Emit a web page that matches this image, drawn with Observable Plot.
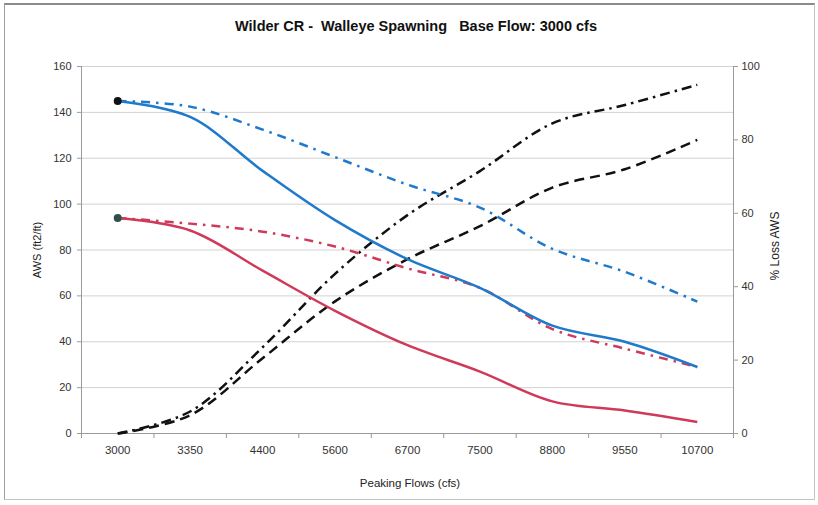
<!DOCTYPE html>
<html><head><meta charset="utf-8">
<script src="https://cdn.jsdelivr.net/npm/d3@7"></script>
<script src="https://cdn.jsdelivr.net/npm/@observablehq/plot@0.6"></script>
<style>
body{margin:0;background:#fff;font-family:"Liberation Sans",Arial,sans-serif;}
#wrap{position:relative;width:818px;height:505px;overflow:hidden}
#frame{position:absolute;left:4px;top:3px;width:811px;height:497px;border:1px solid #c4c4c4;border-top:2px solid #8a8a8a;border-left:1px solid #a0a0a0;box-sizing:border-box}
#chart{position:absolute;left:0;top:0}
.lbl{position:absolute;color:#222;font-size:11px;white-space:nowrap;transform:translate(-50%,-50%)}
</style></head>
<body><div id="wrap"><div id="frame"></div><div id="chart"></div>
<div class="lbl" style="left:416px;top:26px;font-size:14.5px;font-weight:bold;color:#111">Wilder CR -&nbsp; Walleye Spawning &nbsp; Base Flow: 3000 cfs</div>
<div class="lbl" style="left:37px;top:250px;transform:translate(-50%,-50%) rotate(-90deg)">AWS (ft2/ft)</div>
<div class="lbl" style="left:775px;top:246px;font-size:12px;transform:translate(-50%,-50%) rotate(-90deg)">% Loss AWS</div>
<div class="lbl" style="left:410px;top:483px;font-size:11.5px">Peaking Flows (cfs)</div>
</div>
<script>
const categories = ["3000","3350","4400","5600","6700","7500","8800","9550","10700"];
const awsBlue    = [145, 138, 114.5, 93, 76, 63.5, 47, 40, 29];
const awsRed     = [94, 88.5, 71, 53.5, 38.5, 27, 14, 10, 5];
const awsBlueAlt = [145, 142.5, 132.5, 120.5, 108.5, 98.5, 80.5, 70.5, 57.5];
const awsRedAlt  = [94, 91.5, 88, 81.5, 72, 63.5, 45.5, 37, 29];
const lossBlue   = [0, 5, 20.5, 36, 47.5, 56.5, 67, 72, 80];
const lossRed    = [0, 6, 23.5, 43.5, 59.5, 71.5, 84.5, 89.5, 95];
const leftTicks  = [0, 20, 40, 60, 80, 100, 120, 140, 160];
const rightTicks = [0, 20, 40, 60, 80, 100];

const k = 160 / 100; // right axis (0-100) mapped onto left axis range (0-160)
const rows = (arr) => arr.map((v, i) => ({i, v}));
const rowsR = (arr) => arr.map((v, i) => ({i, v: v * k}));
const idx = categories.map((c, i) => i);
const bounds = d3.range(-0.5, categories.length, 1);

const lineOpts = (stroke, dash) => ({x: "i", y: "v", stroke, strokeWidth: 2.5, strokeDasharray: dash, curve: "catmull-rom", strokeLinecap: "butt"});

const chart = Plot.plot({
  width: 818, height: 505,
  marginLeft: 81, marginRight: 85, marginTop: 66, marginBottom: 72,
  x: {type: "linear", domain: [-0.5, categories.length - 0.5], axis: null},
  y: {domain: [0, 160], axis: null},
  style: {fontFamily: "Liberation Sans, Arial, sans-serif", fontSize: "11px", color: "#333", background: "transparent", overflow: "visible"},
  marks: [
    Plot.gridY(leftTicks, {stroke: "#d2d2d2", strokeOpacity: 1}),
    Plot.ruleX([-0.5, categories.length - 0.5], {stroke: "#9a9a9a"}),
    Plot.ruleY([0], {stroke: "#9a9a9a"}),
    Plot.axisY(leftTicks, {anchor: "left", tickSize: 4, tickPadding: 6, label: null, stroke: "#9a9a9a", fill: "#333"}),
    Plot.axisY(rightTicks.map(v => v * k), {anchor: "right", tickSize: 4, tickPadding: 4, tickFormat: d => Math.round(d / k), label: null, stroke: "#9a9a9a", fill: "#333"}),
    Plot.axisX(bounds, {anchor: "bottom", tickSize: 5, tickFormat: () => "", label: null, stroke: "#9a9a9a"}),
    Plot.axisX(idx, {anchor: "bottom", tickSize: 0, tickPadding: 12, tickFormat: i => categories[i], label: null, fill: "#333", fontSize: 11.5}),
    Plot.line(rowsR(lossBlue), lineOpts("#111", "10,6")),
    Plot.line(rowsR(lossRed), lineOpts("#111", "10,5,2.5,5")),
    Plot.line(rows(awsBlueAlt), lineOpts("#1f7acb", "9,6,2.5,6")),
    Plot.line(rows(awsRedAlt), lineOpts("#cf3a5a", "9,6,2.5,6")),
    Plot.line(rows(awsBlue), lineOpts("#1f7acb", null)),
    Plot.line(rows(awsRed), lineOpts("#cf3a5a", null)),
    Plot.dot([{i: 0, v: awsBlue[0]}], {x: "i", y: "v", r: 4, fill: "#111", stroke: "none"}),
    Plot.dot([{i: 0, v: awsRed[0]}], {x: "i", y: "v", r: 4, fill: "#2f4f4a", stroke: "none"})
  ]
});
document.getElementById("chart").appendChild(chart);
</script>
</body></html>
